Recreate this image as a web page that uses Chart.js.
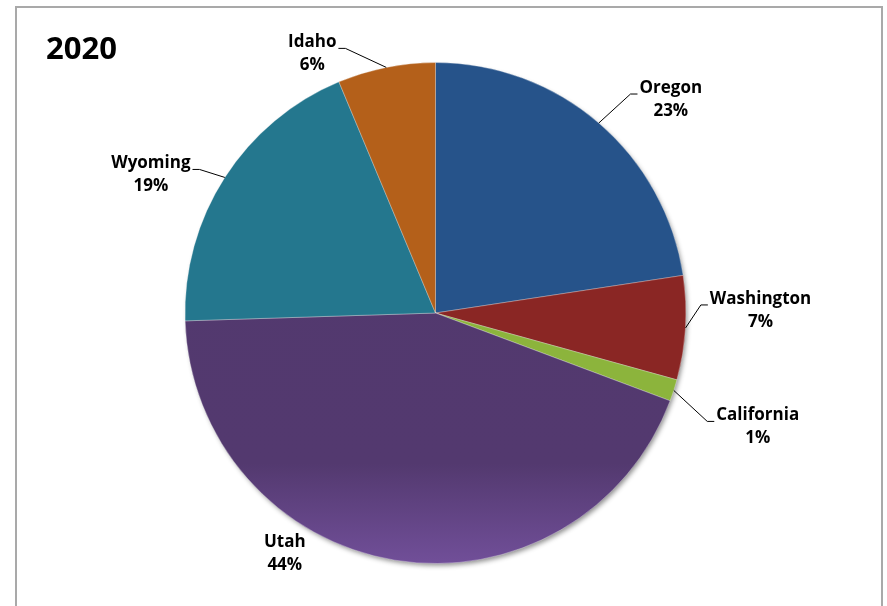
<!DOCTYPE html>
<html>
<head>
<meta charset="utf-8">
<script src="https://cdn.jsdelivr.net/npm/chart.js@4/dist/chart.umd.min.js"></script>
<style>
  html, body { margin: 0; padding: 0; background: #fff; }
  canvas { display: block; }
</style>
</head>
<body>
<canvas id="pie" width="887" height="606"></canvas>
<script>
const chartTitle = "2020";
const states = ["Oregon", "Washington", "California", "Utah", "Wyoming", "Idaho"];
const shares = [22.6, 6.7, 1.4, 43.8, 19.2, 6.3];
const sliceColors = ["#26538a", "#8a2624", "#8cb43c", "#52396e", "#24778e", "#b4601a"];

// where each label sits, relative to the outer middle of its slice
const labelPlacement = [
  { dx: 72, dy: -30, leader: "left" },
  { dx: 75, dy: -24, leader: "left" },
  { dx: 84, dy: 30, leader: "left" },
  { dx: -110, dy: -13, leader: null },
  { dx: -74, dy: -9, leader: "right" },
  { dx: -74, dy: -20, leader: "right" }
];

const labelFont = "bold 17px 'Open Sans', sans-serif";

function utahFill(context) {
  const area = context.chart.chartArea;
  if (!area) return sliceColors[3];
  const g = context.chart.ctx.createLinearGradient(0, area.top, 0, area.bottom);
  g.addColorStop(0, "#52396e");
  g.addColorStop(0.8, "#53396f");
  g.addColorStop(1, "#714f99");
  return g;
}

const framePlugin = {
  id: "frame",
  beforeDraw(chart) {
    const ctx = chart.ctx;
    ctx.save();
    ctx.strokeStyle = "#a9a9a9";
    ctx.lineWidth = 2;
    ctx.beginPath();
    ctx.moveTo(16, 606);
    ctx.lineTo(16, 7);
    ctx.lineTo(882, 7);
    ctx.lineTo(882, 606);
    ctx.stroke();

    ctx.fillStyle = "#000";
    ctx.font = "bold 31px 'Open Sans', sans-serif";
    ctx.textAlign = "left";
    ctx.textBaseline = "alphabetic";
    ctx.fillText(chartTitle, 46, 59);
    ctx.restore();
  }
};

const shadowPlugin = {
  id: "pieShadow",
  beforeDatasetsDraw(chart) {
    const arc = chart.getDatasetMeta(0).data[0];
    if (!arc) return;
    const ctx = chart.ctx;
    ctx.save();
    ctx.shadowColor = "rgba(0,0,0,0.45)";
    ctx.shadowBlur = 5;
    ctx.shadowOffsetX = 2;
    ctx.shadowOffsetY = 3;
    ctx.fillStyle = "#777";
    ctx.beginPath();
    ctx.arc(arc.x, arc.y, arc.outerRadius - 1, 0, Math.PI * 2);
    ctx.fill();
    ctx.restore();
  }
};

const labelPlugin = {
  id: "sliceLabels",
  afterDatasetsDraw(chart) {
    const ctx = chart.ctx;
    const arcs = chart.getDatasetMeta(0).data;
    ctx.save();
    ctx.font = labelFont;
    ctx.fillStyle = "#000";
    ctx.strokeStyle = "#000";
    ctx.lineWidth = 1;
    ctx.textAlign = "center";
    ctx.textBaseline = "alphabetic";
    arcs.forEach((arc, i) => {
      const mid = (arc.startAngle + arc.endAngle) / 2;
      const ax = arc.x + Math.cos(mid) * arc.outerRadius;
      const ay = arc.y + Math.sin(mid) * arc.outerRadius;
      const place = labelPlacement[i];
      const tx = ax + place.dx;
      const ty = ay + place.dy;
      const name = states[i];
      const pct = Math.round(shares[i]) + "%";
      ctx.fillText(name, tx, ty);
      ctx.fillText(pct, tx, ty + 23);
      if (place.leader) {
        const half = ctx.measureText(name).width / 2;
        const ly = ty + 1;
        const edge = place.leader === "left" ? tx - half - 2 : tx + half + 2;
        const elbow = place.leader === "left" ? edge - 7 : edge + 7;
        ctx.beginPath();
        ctx.moveTo(ax, ay);
        ctx.lineTo(elbow, ly);
        ctx.lineTo(edge, ly);
        ctx.stroke();
      }
    });
    ctx.restore();
  }
};

new Chart(document.getElementById("pie"), {
  type: "pie",
  data: {
    labels: states,
    datasets: [{
      data: shares,
      backgroundColor: (context) => context.dataIndex === 3 ? utahFill(context) : sliceColors[context.dataIndex],
      borderColor: "rgba(255,255,255,0.3)",
      borderWidth: 1
    }]
  },
  options: {
    responsive: false,
    animation: false,
    devicePixelRatio: 1,
    layout: {
      padding: { top: 62, bottom: 42, left: 100, right: 116 }
    },
    plugins: {
      legend: { display: false },
      tooltip: { enabled: false },
      title: { display: false }
    }
  },
  plugins: [framePlugin, shadowPlugin, labelPlugin]
});
</script>
</body>
</html>
